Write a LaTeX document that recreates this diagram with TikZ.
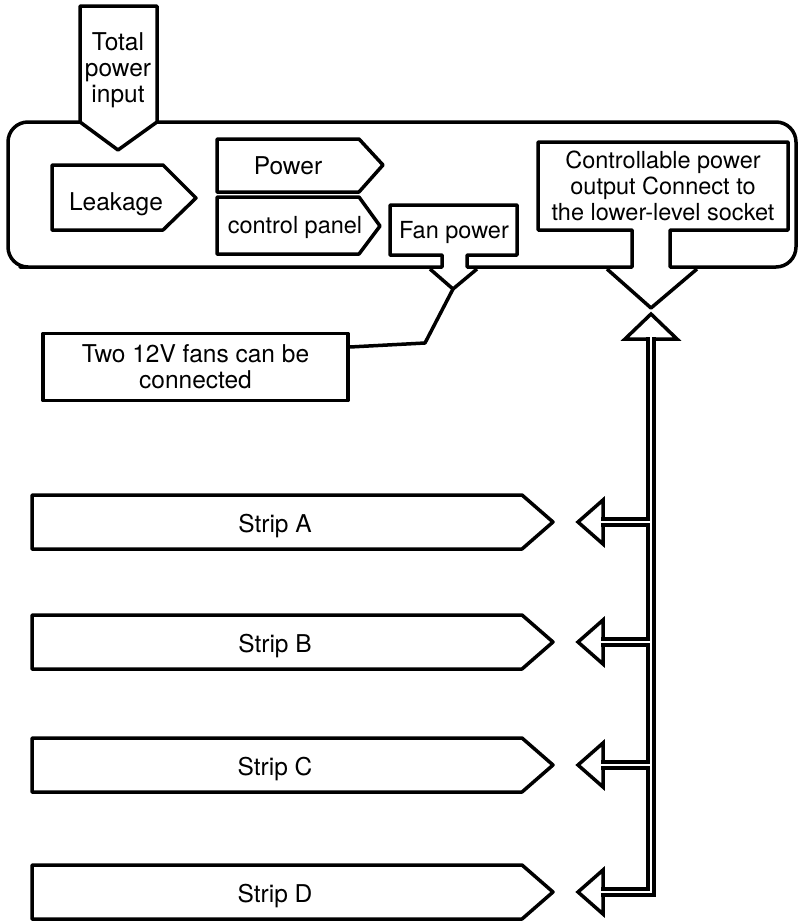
\documentclass[tikz,border=0pt]{standalone}
\usepackage{fontspec}
\setmainfont{TeX Gyre Heros}
\begin{document}
\begin{tikzpicture}[x=1pt,y=-1pt, line width=3.5pt, line join=round,
  lbl/.style={font=\fontsize{24.5}{26}\selectfont, inner sep=0pt},
  lbls/.style={font=\fontsize{23.5}{26}\selectfont, inner sep=0pt},
  bus/.style={draw=black, double=white, double distance=2.6pt, line width=4pt, line join=miter},
  head/.style={draw=black, fill=white, line width=3.5pt, line join=miter},
  plainbox/.style={draw=black, line width=3.5pt, inner sep=0pt}]
\useasboundingbox (0,0) rectangle (798,924);

% main housing with the two callout boxes
\draw (467,267) -- (632,267) -- (632,230) -- (538,230) -- (538,142) -- (788,142)
  -- (788,230) -- (670,230) -- (670,267) -- (700,267)
  [rounded corners=20pt] -- (796,267) -- (796,122) -- (8,122) -- (8,267) -- (40,267)
  [sharp corners] -- (442,267) -- (442,255) -- (390,255) -- (390,205) -- (517,205)
  -- (517,255) -- (467,255) -- cycle;

% total power input arrow
\draw[fill=white] (80,6) -- (157,6) -- (157,122) -- (118,150) -- (80,122) -- cycle;
\node[lbl, align=center] (total) at (118,70) {Total\\power\\input};

% leakage, power, control panel
\draw (52,165) -- (163,165) -- (196,198) -- (163,230) -- (52,230) -- cycle;
\node[lbl, anchor=base] (leak) at (116,210) {Leakage};
\draw (217,139) -- (359,139) -- (383,165) -- (359,192) -- (217,192) -- cycle;
\node[lbl, anchor=base] (power) at (288,174) {Power};
\draw (217,197) -- (359,197) -- (380,226) -- (359,254) -- (217,254) -- cycle;
\node[lbls, anchor=base] (ctrl) at (295,233) {control panel};

% fan power
\node[lbls, anchor=base] (fanpower) at (454,238) {Fan power};
\coordinate (fanapex) at (453,289);
\draw (430,269) -- (fanapex) -- (477,269);
\node[plainbox, minimum width=305pt, minimum height=67pt, lbl, align=center] (fans) at (195.5,367)
  {Two 12V fans can be\\connected};
\draw (fanapex) -- (425,343) -- ([yshift=20pt]fans.east);

% controllable output
\node[lbls, align=center] (ctrlout) at (663,185.5)
  {Controllable power\\output Connect to\\the lower-level socket};
\coordinate (outapex) at (651,308);
\draw (607,269) -- (outapex) -- (697,269);

% bus
\draw[head] (651,314) -- (677,339) -- (625,339) -- cycle;
\coordinate (bustop) at (651,337);
\coordinate (busbot) at (651,892);
\draw[bus] (bustop) -- (busbot) -- (601,892);

% strips
\foreach \y/\t in {522/A, 642/B, 765/C, 892/D} {
  \draw (32,\y-27) -- (522,\y-27) -- (553,\y) -- (522,\y+27) -- (32,\y+27) -- cycle;
  \node[lbl, anchor=base] (strip\t) at (275,\y+10) {Strip \t};
  \draw[head] (603,\y-22) -- (578,\y) -- (603,\y+22) -- cycle;
}
\foreach \y in {522, 642, 765} {
  \draw[bus] (649.7,\y) -- (601,\y);
}
\draw[bus] (651,880) -- (busbot) -- (601,892);
\end{tikzpicture}
\end{document}
